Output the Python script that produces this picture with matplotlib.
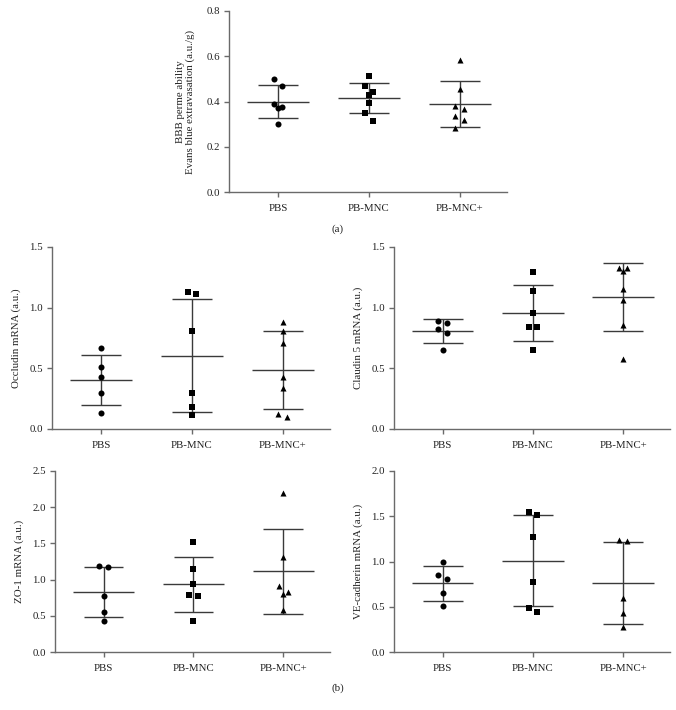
import numpy as np
import matplotlib.pyplot as plt

plt.rcParams['font.family'] = ['Liberation Serif', 'DejaVu Serif']

groups = ["PBS", "PB-MNC", "PB-MNC+"]

# (a) BBB permeability
bbb_pbs = [0.468, 0.499, 0.375, 0.371, 0.390, 0.299]
bbb_mnc = [0.512, 0.468, 0.440, 0.429, 0.393, 0.349, 0.316]
bbb_mncp = [0.585, 0.457, 0.368, 0.378, 0.318, 0.335, 0.285]
bbb_mean = [0.400, 0.415, 0.390]
bbb_sd = [0.071, 0.068, 0.102]

# (b) Occludin
occ_pbs = [0.665, 0.508, 0.429, 0.297, 0.129]
occ_mnc = [1.113, 1.129, 0.808, 0.299, 0.184, 0.115]
occ_mncp = [0.885, 0.810, 0.706, 0.431, 0.335, 0.126, 0.096]
occ_mean = [0.404, 0.604, 0.486]
occ_sd = [0.203, 0.467, 0.321]

# (b) Claudin 5
cld_pbs = [0.876, 0.893, 0.821, 0.791, 0.648]
cld_mnc = [1.297, 1.135, 0.959, 0.841, 0.841, 0.654]
cld_mncp = [1.330, 1.330, 1.305, 1.151, 1.060, 0.857, 0.580]
cld_mean = [0.805, 0.956, 1.088]
cld_sd = [0.098, 0.230, 0.283]

# (b) ZO-1
zo_pbs = [1.190, 1.176, 0.777, 0.556, 0.432]
zo_mnc = [1.521, 1.149, 0.938, 0.786, 0.777, 0.427]
zo_mncp = [2.201, 1.319, 0.910, 0.823, 0.795, 0.584]
zo_mean = [0.827, 0.933, 1.112]
zo_sd = [0.349, 0.374, 0.584]

# (b) VE-cadherin
ve_pbs = [0.989, 0.849, 0.805, 0.647, 0.504]
ve_mnc = [1.551, 1.515, 1.268, 0.768, 0.485, 0.445]
ve_mncp = [1.239, 1.232, 0.599, 0.434, 0.276]
ve_mean = [0.757, 1.007, 0.761]
ve_sd = [0.188, 0.502, 0.450]

FW, FH = 676, 710
fig = plt.figure(figsize=(FW / 100, FH / 100), dpi=100)

markers = ["o", "s", "^"]
LINE = "#3a3a3a"
SPINE = "#6a6a6a"


def swarm_offsets(vals, px_per_unit, step, thr=8.0):
    # group points that sit close in y and spread them sideways
    order = np.argsort(vals)[::-1]
    v = np.asarray(vals)[order]
    clusters = [[0]]
    for i in range(1, len(v)):
        if (v[i - 1] - v[i]) * px_per_unit < thr:
            clusters[-1].append(i)
        else:
            clusters.append([i])
    offs = np.zeros(len(v))
    for c in clusters:
        n = len(c)
        if n == 1:
            pat = [0]
        elif n == 2:
            pat = [-1, 1]
        elif n == 3:
            pat = [-1, 1, 0]
        else:
            pat = [(-1) ** (k + 1) for k in range(n)]
        for idx, p in zip(c, pat):
            offs[idx] = p * step
    res = np.zeros(len(v))
    res[order] = offs
    return res


def draw_panel(rect, data, means, sds, ymax, ystep, ylabel, labelpad):
    ax = fig.add_axes(rect)
    ax.set_xlim(-0.54, 2.52)
    ax.set_ylim(0, ymax)
    h_px = rect[3] * FH
    w_px = rect[2] * FW
    ppu = h_px / ymax
    step = 4.3 / (w_px / 3.06)
    for i, vals in enumerate(data):
        offs = swarm_offsets(vals, ppu, step)
        ax.vlines(i, means[i] - sds[i], means[i] + sds[i], color=LINE, lw=1.0, zorder=2)
        ax.hlines(means[i], i - 0.34, i + 0.34, color=LINE, lw=1.0, zorder=2)
        ax.hlines([means[i] - sds[i], means[i] + sds[i]], i - 0.22, i + 0.22,
                  color=LINE, lw=1.0, zorder=2)
        ax.scatter(i + offs, vals, marker=markers[i], s=19, color="black",
                   linewidths=0, zorder=3)
    ax.set_xticks(range(3))
    ax.set_xticklabels(groups)
    ax.set_yticks(np.arange(0, ymax + 1e-9, ystep))
    ax.yaxis.set_major_formatter(plt.FormatStrFormatter("%.1f"))
    for s in ["top", "right"]:
        ax.spines[s].set_visible(False)
    for s in ["left", "bottom"]:
        ax.spines[s].set_color(SPINE)
        ax.spines[s].set_linewidth(1.0)
    ax.tick_params(length=3.5, width=1.0, color=SPINE, labelsize=7.8,
                   labelcolor="#222222", pad=3)
    ax.tick_params(axis="x", pad=5)
    ax.set_ylabel(ylabel, fontsize=7.8, color="#222222", labelpad=labelpad,
                  linespacing=1.1)
    return ax


def rect_px(left, right, top, bottom):
    return [left / FW, 1 - bottom / FH, (right - left) / FW, (bottom - top) / FH]


draw_panel(rect_px(229, 507, 11, 192), [bbb_pbs, bbb_mnc, bbb_mncp], bbb_mean, bbb_sd,
           0.8, 0.2, "BBB perme ability\nEvans blue extravasation (a.u./g)", 8)
draw_panel(rect_px(52, 330, 247, 429), [occ_pbs, occ_mnc, occ_mncp], occ_mean, occ_sd,
           1.5, 0.5, "Occludin mRNA (a.u.)", 6)
draw_panel(rect_px(394, 670, 247, 429), [cld_pbs, cld_mnc, cld_mncp], cld_mean, cld_sd,
           1.5, 0.5, "Claudin 5 mRNA (a.u.)", 6)
draw_panel(rect_px(55, 330, 471, 652), [zo_pbs, zo_mnc, zo_mncp], zo_mean, zo_sd,
           2.5, 0.5, "ZO-1 mRNA (a.u.)", 6)
draw_panel(rect_px(394, 670, 471, 652), [ve_pbs, ve_mnc, ve_mncp], ve_mean, ve_sd,
           2.0, 0.5, "VE-cadherin mRNA (a.u.)", 6)

fig.text(338 / FW, 1 - 229 / FH, "(a)", ha="center", va="center", fontsize=7.8, color="#222222")
fig.text(338 / FW, 1 - 688 / FH, "(b)", ha="center", va="center", fontsize=7.8, color="#222222")

fig.savefig("out.png", dpi=100)
